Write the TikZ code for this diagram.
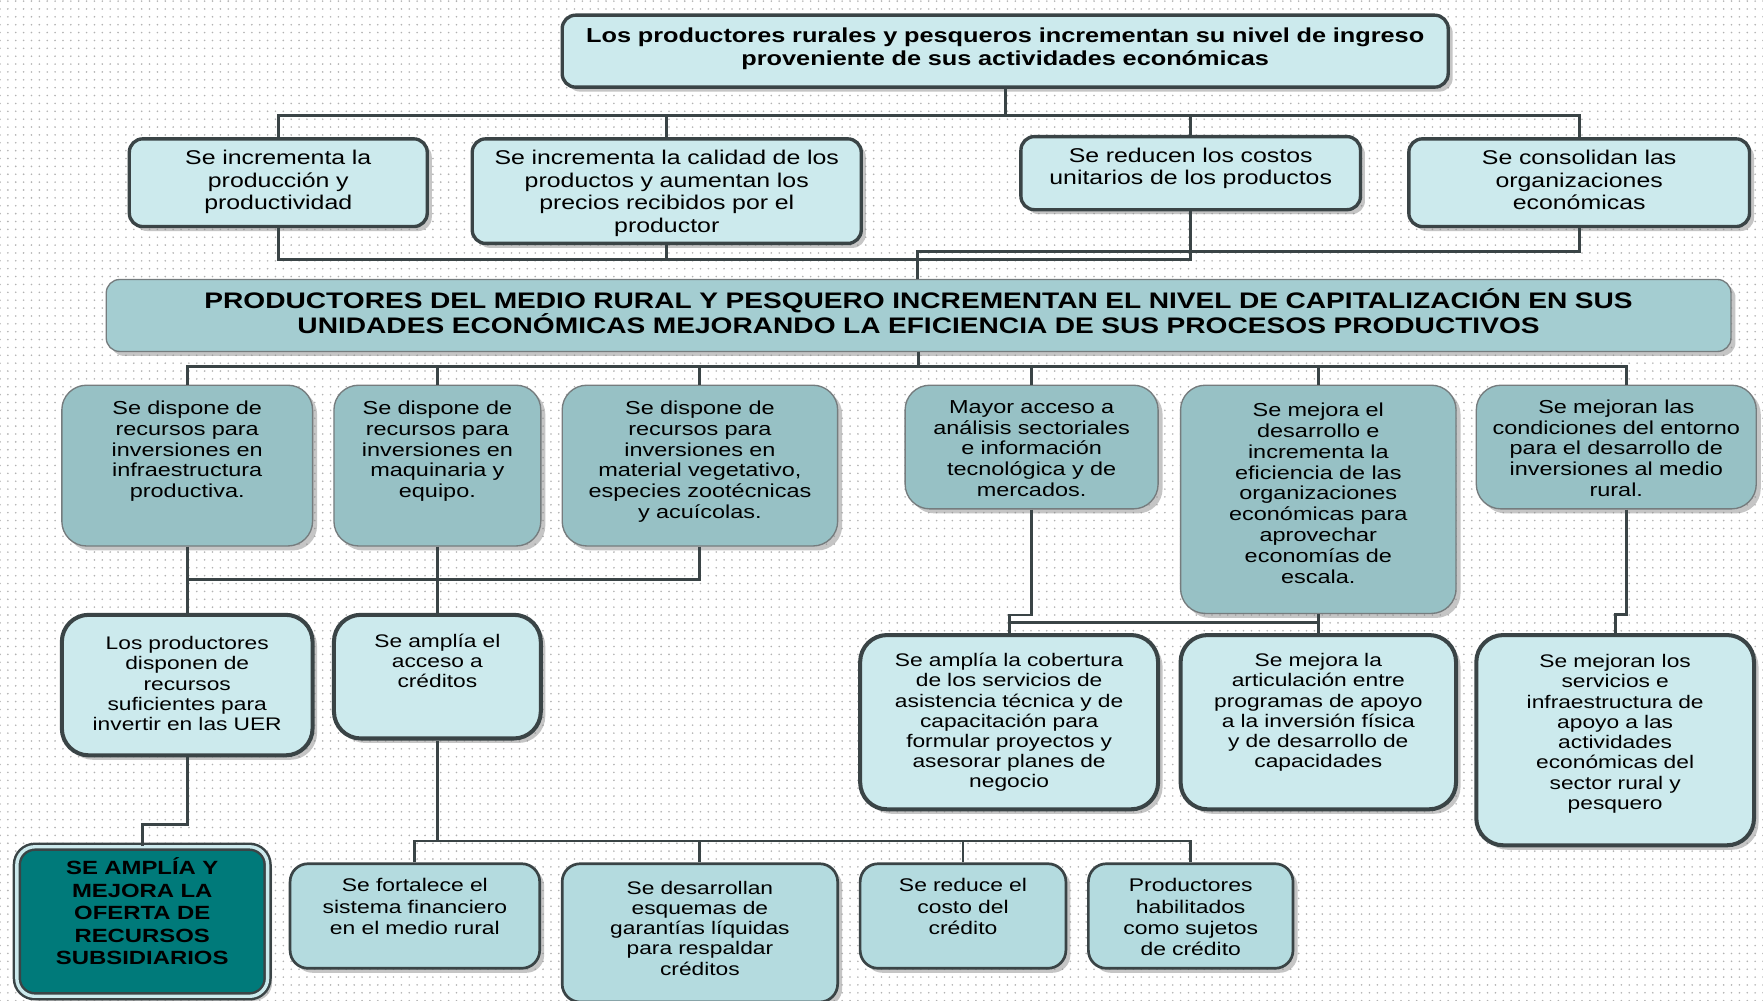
\documentclass[tikz,border=0pt]{standalone}
\usepackage{fontspec}
\setmainfont{Liberation Sans}[FakeStretch=1.25]
\usetikzlibrary{shadows,patterns.meta}

\definecolor{lineGray}{RGB}{58,68,70}
\definecolor{paleCyan}{RGB}{204,234,237}
\definecolor{midCyan}{RGB}{180,219,223}
\definecolor{dullCyan}{RGB}{164,205,209}
\definecolor{deepCyan}{RGB}{151,193,197}
\definecolor{subsTeal}{RGB}{0,122,122}

\newcommand\fTop{\bfseries\fontsize{18}{21}\selectfont}
\newcommand\fBig{\bfseries\fontsize{20}{22}\selectfont}
\newcommand\fGoal{\fontsize{17.7}{20}\selectfont}
\newcommand\fMeans{\fontsize{16.7}{18.5}\selectfont}
\newcommand\fRes{\fontsize{16.2}{18}\selectfont}
\newcommand\fAct{\fontsize{16.3}{19}\selectfont}
\newcommand\fSubs{\bfseries\fontsize{17}{20}\selectfont}

\tikzset{
	link/.style={draw=lineGray, line width=2.6pt},
	dims/.style n args={3}{text width=#1pt, text height=#2pt, text depth=#3pt},
	basebox/.style={rectangle, anchor=north, align=center, inner xsep=0pt, inner ysep=0pt,
		drop shadow={shadow xshift=4pt, shadow yshift=-4pt, fill=black!45}},
	goalbox/.style={basebox, rounded corners=12pt, draw=lineGray, line width=3pt, fill=paleCyan, font=\fGoal},
	mainbox/.style={basebox, rounded corners=12pt, draw=lineGray!70, line width=1.2pt, fill=dullCyan, font=\fBig},
	meansbox/.style={basebox, rounded corners=22pt, draw=lineGray!70, line width=1.2pt, fill=deepCyan, font=\fMeans},
	resultbox/.style={basebox, rounded corners=24pt, draw=lineGray, line width=3.6pt, fill=paleCyan, font=\fRes},
	actionbox/.style={basebox, rounded corners=16pt, draw=lineGray, line width=2.4pt, fill=midCyan, font=\fAct},
	subsbox/.style={basebox, rounded corners=16pt, draw=lineGray, line width=2.2pt, double=paleCyan,
		double distance=3pt, fill=subsTeal, font=\fSubs},
}

\begin{document}
\begin{tikzpicture}[x=1pt, y=-1pt]
	\useasboundingbox (0,0) rectangle (1568,890);
	\fill[white] (0,0) rectangle (1568,890);
	\fill[pattern={Dots[distance=7pt,radius=0.8pt]}, pattern color=black!30] (0,0) rectangle (1568,890);

	\node[goalbox, dims={788}{24}{40}, font=\fTop] (T) at (894,12) {Los productores rurales y pesqueros incrementan su nivel de ingreso\\proveniente de sus actividades económicas};

	\node[goalbox, dims={265}{23}{55}] (A1) at (247.5,122) {Se incrementa la\\producción y\\productividad};
	\node[goalbox, dims={346}{23}{70}] (A2) at (593,122) {Se incrementa la calidad de los\\productos y aumentan los\\precios recibidos por el\\productor};
	\node[goalbox, dims={302}{23}{42}] (A3) at (1059,120) {Se reducen los costos\\unitarios de los productos};
	\node[goalbox, dims={303}{23}{55}] (A4) at (1404.5,122) {Se consolidan las\\organizaciones\\económicas};

	\node[mainbox, dims={1445}{26}{38}] (BIG) at (817,248) {PRODUCTORES DEL MEDIO RURAL Y PESQUERO INCREMENTAN EL NIVEL DE CAPITALIZACIÓN EN SUS\\UNIDADES ECONÓMICAS MEJORANDO LA EFICIENCIA DE SUS PROCESOS PRODUCTIVOS};

	\node[meansbox, dims={223}{26}{117}] (B1) at (166.5,342) {Se dispone de\\recursos para\\inversiones en\\infraestructura\\productiva.};
	\node[meansbox, dims={184}{26}{117}] (B2) at (389,342) {Se dispone de\\recursos para\\inversiones en\\maquinaria y\\equipo.};
	\node[meansbox, dims={245}{26}{117}] (B3) at (622.5,342) {Se dispone de\\recursos para\\inversiones en\\material vegetativo,\\especies zootécnicas\\y acuícolas.};
	\node[meansbox, dims={225}{25}{85}] (B4) at (917.5,342) {Mayor acceso a\\análisis sectoriales\\e información\\tecnológica y de\\mercados.};
	\node[meansbox, dims={245}{28}{175}] (B5) at (1172.5,342) {Se mejora el\\desarrollo e\\incrementa la\\eficiencia de las\\organizaciones\\económicas para\\aprovechar\\economías de\\escala.};
	\node[meansbox, dims={249}{25}{85}] (B6) at (1437.5,342) {Se mejoran las\\condiciones del entorno\\para el desarrollo de\\inversiones al medio\\rural.};

	\node[resultbox, dims={223}{31}{94}] (C1) at (166.5,545) {Los productores\\disponen de\\recursos\\suficientes para\\invertir en las UER};
	\node[resultbox, dims={184}{29}{81}] (C2) at (389,545) {Se amplía el\\acceso a\\créditos};
	\node[resultbox, dims={265}{28}{127}] (C3) at (897.5,563) {Se amplía la cobertura\\de los servicios de\\asistencia técnica y de\\capacitación para\\formular proyectos y\\asesorar planes de\\negocio};
	\node[resultbox, dims={245}{28}{127}] (C4) at (1172.5,563) {Se mejora la\\articulación entre\\programas de apoyo\\a la inversión física\\y de desarrollo de\\capacidades};
	\node[resultbox, dims={247}{29}{158}] (C5) at (1436.5,563) {Se mejoran los\\servicios e\\infraestructura de\\apoyo a las\\actividades\\económicas del\\sector rural y\\pesquero};

	\node[subsbox, dims={223}{25}{108}] (D0) at (126.5,752) {SE AMPLÍA Y\\MEJORA LA\\OFERTA DE\\RECURSOS\\SUBSIDIARIOS};
	\node[actionbox, dims={222}{25}{68}] (D1) at (369,767) {Se fortalece el\\sistema financiero\\en el medio rural};
	\node[actionbox, dims={245}{27}{96}, font=\fRes] (D2) at (622.5,767) {Se desarrollan\\esquemas de\\garantías líquidas\\para respaldar\\créditos};
	\node[actionbox, dims={183}{25}{68}] (D3) at (856.5,767) {Se reduce el\\costo del\\crédito};
	\node[actionbox, dims={182}{25}{68}] (D4) at (1059,767) {Productores\\habilitados\\como sujetos\\de crédito};

	\coordinate (bus1) at (894,103);
	\coordinate (bus2) at (816,231);
	\coordinate (j2) at (816,224);
	\coordinate (bus3) at (817,326);
	\coordinate (bus4) at (389,515);
	\coordinate (j4) at (917.5,547);
	\coordinate (bus5) at (897.5,554);
	\coordinate (j6) at (166.5,733);
	\coordinate (bus6) at (389,748);

	\draw[link] (T) -- (bus1);
	\draw[link] (A1) |- (bus1) -| (A4);
	\draw[link] (A2) -- (A2 |- bus1);
	\draw[link] (A3) -- (A3 |- bus1);

	\draw[link] (A1) |- (bus2) -| (A3);
	\draw[link] (A2) -- (A2 |- bus2);
	\draw[link] (A4) |- (j2) -- (j2 |- BIG.north);

	\draw[link] (BIG) -- (bus3);
	\draw[link] (B1) |- (bus3) -| ([xshift=9pt]B6.north);
	\draw[link] (B2) -- (B2 |- bus3);
	\draw[link] (B3) -- (B3 |- bus3);
	\draw[link] (B4) -- (B4 |- bus3);
	\draw[link] (B5) -- (B5 |- bus3);

	\draw[link] (B1) -- (C1);
	\draw[link] (B2) -- (C2);
	\draw[link] (B3) |- (B1 |- bus4);
	\draw[link] (B4) -- (j4) -| (C3);
	\draw[link] (B5) -- (C4);
	\draw[link] (C4 |- bus5) -- (bus5);
	\draw[link] ([xshift=9pt]B6.south) -- ++(0,93) -| (C5);

	\draw[link] (C1) -- (j6) -| (D0);
	\draw[link] (C2) -- (bus6);
	\draw[link] (D1) |- (bus6) -| (D4);
	\draw[link] (D2) -- (D2 |- bus6);
	\draw[link] (D3) -- (D3 |- bus6);

\end{tikzpicture}
\end{document}
